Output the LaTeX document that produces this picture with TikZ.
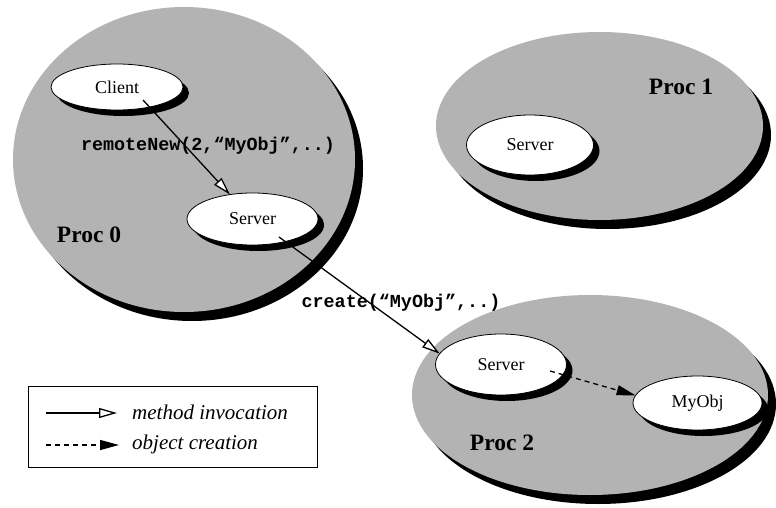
\documentclass[tikz,border=0pt]{standalone}
\usepackage{fontspec}
\setmainfont{Liberation Serif}
\setmonofont{Liberation Mono}
\usetikzlibrary{shapes.geometric,shadows,arrows.meta,calc}
\definecolor{procgray}{RGB}{179,179,179}
\begin{document}
\begin{tikzpicture}[x=1pt,y=-1pt,
  proc/.style={ellipse, fill=procgray, inner sep=0pt, outer sep=0pt,
    drop shadow={shadow xshift=8pt, shadow yshift=-9pt, fill=black, opacity=1}},
  obj/.style={ellipse, draw=black, line width=0.8pt, fill=white, inner sep=0pt, outer sep=0pt,
    font=\fontsize{18}{20}\selectfont,
    drop shadow={shadow xshift=6pt, shadow yshift=-6pt, fill=black, opacity=1}},
  proclabel/.style={font=\fontsize{23.5}{26}\selectfont\bfseries, inner sep=0pt},
  codelabel/.style={font=\fontsize{18.4}{20}\selectfont\ttfamily\bfseries, inner sep=0pt},
  legtext/.style={font=\fontsize{21}{24}\selectfont\itshape, anchor=west, inner sep=0pt},
  inv/.style={line width=1.3pt, -{Triangle[length=18pt,width=10pt,fill=white]}},
  cre/.style={line width=1.3pt, dash pattern=on 5pt off 4pt, -{Triangle[length=19pt,width=10pt]}}
]
\useasboundingbox (0,0) rectangle (776,508);
% processes
\node[proc, minimum width=342pt, minimum height=305pt] (p0) at (184,159.5) {};
\node[proc, minimum width=327pt, minimum height=188pt] (p1) at (599.5,126) {};
\node[proc, minimum width=356pt, minimum height=200pt] (p2) at (590,395) {};
% objects
\node[obj, minimum width=132pt, minimum height=46pt] (client) at (117,87) {Client};
\node[obj, minimum width=131pt, minimum height=52pt] (srv0) at (252.5,219) {Server};
\node[obj, minimum width=127pt, minimum height=60pt] (srv1) at (530,145) {Server};
\node[obj, minimum width=131pt, minimum height=61pt] (srv2) at (501,364.5) {Server};
\node[obj, minimum width=129pt, minimum height=54pt] (myobj) at (697.5,403) {MyObj};
% labels
\node[proclabel] (l0) at (89,235) {Proc 0};
\node[proclabel] (l1) at (681,87) {Proc 1};
\node[proclabel] (l2) at (502,443) {Proc 2};
% connectors
\coordinate (a1) at ($(client.center)+(26,13)$);
\draw[inv] (a1) -- (srv0);
\coordinate (a2) at ($(srv0.center)+(26.5,18)$);
\draw[inv] (a2) -- (srv2.170);
\coordinate (a3) at ($(srv2.center)+(49,6.5)$);
\draw[cre] (a3) -- (myobj.173);
\node[codelabel] (m1) at (208,146) {remoteNew(2,“MyObj”,..)};
\node[codelabel] (m2) at (401,303) {create(“MyObj”,..)};
% legend
\node[draw, line width=0.8pt, minimum width=289pt, minimum height=81pt, inner sep=0pt] (legend) at (172.5,426.5) {};
\coordinate (la1) at (46,413);
\coordinate (lb1) at (117,413);
\draw[inv] (la1) -- (lb1);
\coordinate (la2) at (46,445);
\coordinate (lb2) at (119,445);
\draw[cre] (la2) -- (lb2);
\node[legtext] (t1) at (132,412) {method invocation};
\node[legtext] (t2) at (132,444) {object creation};
\end{tikzpicture}
\end{document}
